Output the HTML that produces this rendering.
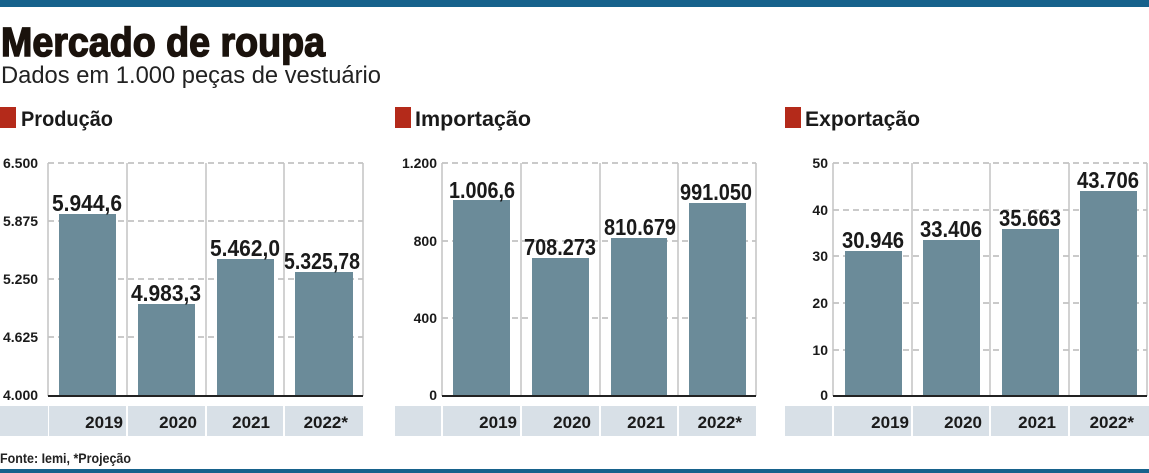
<!DOCTYPE html>
<html><head><meta charset="utf-8"><style>
html,body{margin:0;padding:0;background:#fff;}
svg{display:block;font-family:"Liberation Sans Narrow","Liberation Sans",sans-serif;}
.t{font-weight:bold;fill:#1a1a1a;}
</style></head><body>
<svg width="1149" height="473" viewBox="0 0 1149 473" xmlns="http://www.w3.org/2000/svg">
<rect x="0" y="0" width="1149" height="7" fill="#17628c"/>
<rect x="0" y="469" width="1149" height="4" fill="#17628c"/>
<text x="1" y="56" font-family="Liberation Sans" font-weight="bold" font-size="41" fill="#1a120c" stroke="#1a120c" stroke-width="1.5" textLength="324" lengthAdjust="spacingAndGlyphs">Mercado de roupa</text>
<text x="1" y="83" font-family="Liberation Sans" font-size="24" fill="#222" textLength="380" lengthAdjust="spacingAndGlyphs">Dados em 1.000 peças de vestuário</text>
<g font-weight="bold" font-size="21" fill="#1a1a1a">
<rect x="0" y="107" width="16" height="21" fill="#b42a1a"/><text x="21" y="126" textLength="92" lengthAdjust="spacingAndGlyphs">Produção</text>
<rect x="395" y="107" width="16" height="21" fill="#b42a1a"/><text x="415" y="126" textLength="116" lengthAdjust="spacingAndGlyphs">Importação</text>
<rect x="785" y="107" width="16" height="21" fill="#b42a1a"/><text x="805" y="126" textLength="115" lengthAdjust="spacingAndGlyphs">Exportação</text>
</g>
<text x="0" y="463" font-weight="bold" font-size="14" fill="#222" textLength="131" lengthAdjust="spacingAndGlyphs">Fonte: Iemi, *Projeção</text>

<!-- Chart 1 -->
<g>
<rect x="0" y="406" width="48" height="30" fill="#d8e0e7"/>
<rect x="49" y="406" width="77" height="30" fill="#d8e0e7"/>
<rect x="128" y="406" width="77" height="30" fill="#d8e0e7"/>
<rect x="207" y="406" width="76" height="30" fill="#d8e0e7"/>
<rect x="285" y="406" width="78" height="30" fill="#d8e0e7"/>
<g stroke="#b8b8b8" stroke-width="1.5" stroke-dasharray="6,4">
<line x1="48" y1="163" x2="363" y2="163"/><line x1="48" y1="221" x2="363" y2="221"/><line x1="48" y1="279" x2="363" y2="279"/><line x1="48" y1="337" x2="363" y2="337"/></g>
<g stroke="#c4c4c4" stroke-width="1.5"><line x1="48" y1="163" x2="48" y2="396"/><line x1="127" y1="163" x2="127" y2="396"/><line x1="206" y1="163" x2="206" y2="396"/><line x1="284" y1="163" x2="284" y2="396"/><line x1="363" y1="163" x2="363" y2="396"/></g>
<g fill="#6b8b99"><rect x="59" y="214" width="57" height="182"/><rect x="138" y="304" width="57" height="92"/><rect x="217" y="259" width="57" height="137"/><rect x="295" y="272" width="58" height="124"/></g>
<line x1="48" y1="396" x2="363" y2="396" stroke="#222" stroke-width="2"/>
<g class="t" font-size="14"><text x="3" y="168">6.500</text><text x="3" y="226">5.875</text><text x="3" y="284">5.250</text><text x="3" y="342">4.625</text><text x="3" y="400">4.000</text></g>
<g class="t" font-size="23" text-anchor="middle"><text x="87" y="211" textLength="70" lengthAdjust="spacingAndGlyphs">5.944,6</text><text x="166" y="301" textLength="70" lengthAdjust="spacingAndGlyphs">4.983,3</text><text x="245" y="256" textLength="70" lengthAdjust="spacingAndGlyphs">5.462,0</text><text x="322" y="269" textLength="76" lengthAdjust="spacingAndGlyphs">5.325,78</text></g>
<g class="t" font-size="17" text-anchor="end"><text x="123" y="428">2019</text><text x="197" y="428">2020</text><text x="270" y="428">2021</text><text x="348" y="428">2022*</text></g>
</g>

<!-- Chart 2 -->
<g>
<rect x="395" y="406" width="46" height="30" fill="#d8e0e7"/>
<rect x="443" y="406" width="77" height="30" fill="#d8e0e7"/>
<rect x="522" y="406" width="77" height="30" fill="#d8e0e7"/>
<rect x="601" y="406" width="76" height="30" fill="#d8e0e7"/>
<rect x="679" y="406" width="77" height="30" fill="#d8e0e7"/>
<g stroke="#b8b8b8" stroke-width="1.5" stroke-dasharray="6,4">
<line x1="442" y1="163" x2="756" y2="163"/><line x1="442" y1="241" x2="756" y2="241"/><line x1="442" y1="318" x2="756" y2="318"/></g>
<g stroke="#c4c4c4" stroke-width="1.5"><line x1="442" y1="163" x2="442" y2="396"/><line x1="521" y1="163" x2="521" y2="396"/><line x1="600" y1="163" x2="600" y2="396"/><line x1="678" y1="163" x2="678" y2="396"/><line x1="756" y1="163" x2="756" y2="396"/></g>
<g fill="#6b8b99"><rect x="453" y="200" width="57" height="196"/><rect x="532" y="258" width="57" height="138"/><rect x="611" y="238" width="56" height="158"/><rect x="689" y="203" width="57" height="193"/></g>
<line x1="442" y1="396" x2="756" y2="396" stroke="#222" stroke-width="2"/>
<g class="t" font-size="14" text-anchor="end"><text x="437" y="168">1.200</text><text x="437" y="246">800</text><text x="437" y="323">400</text><text x="437" y="400">0</text></g>
<g class="t" font-size="23" text-anchor="middle"><text x="482" y="198" textLength="66" lengthAdjust="spacingAndGlyphs">1.006,6</text><text x="560" y="255" textLength="72" lengthAdjust="spacingAndGlyphs">708.273</text><text x="640" y="235" textLength="72" lengthAdjust="spacingAndGlyphs">810.679</text><text x="716" y="200" textLength="72" lengthAdjust="spacingAndGlyphs">991.050</text></g>
<g class="t" font-size="17" text-anchor="end"><text x="517" y="428">2019</text><text x="591" y="428">2020</text><text x="665" y="428">2021</text><text x="742" y="428">2022*</text></g>
</g>

<!-- Chart 3 -->
<g>
<rect x="785" y="406" width="47" height="30" fill="#d8e0e7"/>
<rect x="834" y="406" width="77" height="30" fill="#d8e0e7"/>
<rect x="913" y="406" width="76" height="30" fill="#d8e0e7"/>
<rect x="991" y="406" width="77" height="30" fill="#d8e0e7"/>
<rect x="1070" y="406" width="79" height="30" fill="#d8e0e7"/>
<g stroke="#b8b8b8" stroke-width="1.5" stroke-dasharray="6,4">
<line x1="833" y1="163" x2="1147" y2="163"/><line x1="833" y1="210" x2="1147" y2="210"/><line x1="833" y1="256" x2="1147" y2="256"/><line x1="833" y1="303" x2="1147" y2="303"/><line x1="833" y1="350" x2="1147" y2="350"/></g>
<g stroke="#c4c4c4" stroke-width="1.5"><line x1="833" y1="163" x2="833" y2="396"/><line x1="912" y1="163" x2="912" y2="396"/><line x1="990" y1="163" x2="990" y2="396"/><line x1="1069" y1="163" x2="1069" y2="396"/><line x1="1147" y1="163" x2="1147" y2="396"/></g>
<g fill="#6b8b99"><rect x="845" y="251" width="57" height="145"/><rect x="923" y="240" width="57" height="156"/><rect x="1002" y="229" width="57" height="167"/><rect x="1080" y="191" width="57" height="205"/></g>
<line x1="833" y1="396" x2="1147" y2="396" stroke="#222" stroke-width="2"/>
<g class="t" font-size="14" text-anchor="end"><text x="828" y="168">50</text><text x="828" y="215">40</text><text x="828" y="261">30</text><text x="828" y="308">20</text><text x="828" y="355">10</text><text x="828" y="400">0</text></g>
<g class="t" font-size="23" text-anchor="middle"><text x="873" y="248" textLength="62" lengthAdjust="spacingAndGlyphs">30.946</text><text x="951" y="237" textLength="62" lengthAdjust="spacingAndGlyphs">33.406</text><text x="1030" y="226" textLength="62" lengthAdjust="spacingAndGlyphs">35.663</text><text x="1108" y="188" textLength="62" lengthAdjust="spacingAndGlyphs">43.706</text></g>
<g class="t" font-size="17" text-anchor="end"><text x="909" y="428">2019</text><text x="982" y="428">2020</text><text x="1056" y="428">2021</text><text x="1134" y="428">2022*</text></g>
</g>
</svg>
</body></html>
